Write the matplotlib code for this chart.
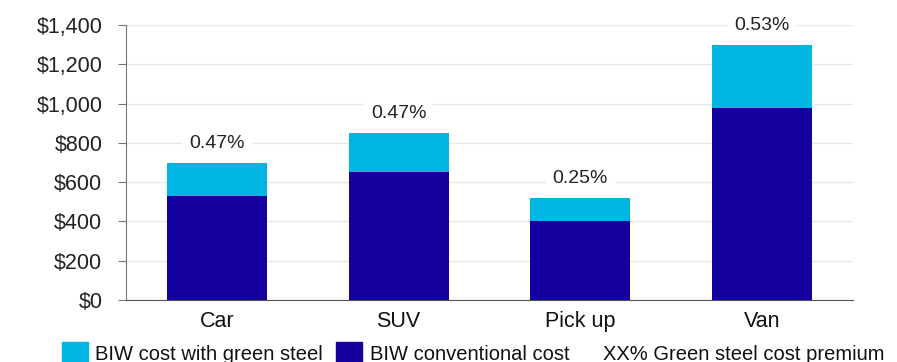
import matplotlib.pyplot as plt
from matplotlib.patches import Rectangle
from matplotlib.ticker import FuncFormatter

plt.rcParams['font.family'] = ['Liberation Sans', 'DejaVu Sans']

vehicles = ['Car', 'SUV', 'Pick up', 'Van']
conventional_cost = [530, 650, 400, 980]
green_steel_cost = [700, 850, 520, 1300]
premium_labels = ['0.47%', '0.47%', '0.25%', '0.53%']

LIGHT = '#00b5e2'
DARK = '#13009e'

fig = plt.figure(figsize=(8.97, 3.62), dpi=100)
ax = fig.add_axes([0.1405, 0.171, 0.8105, 0.76])

x = range(len(vehicles))
width = 0.55
# green steel total drawn behind, conventional cost on top of it
ax.bar(x, green_steel_cost, width, color=LIGHT, zorder=2)
ax.bar(x, conventional_cost, width, color=DARK, zorder=3)

for i, (total, lab) in enumerate(zip(green_steel_cost, premium_labels)):
    ax.annotate(lab, (i, total), xytext=(0, 14), textcoords='offset points',
                ha='center', va='center', fontsize=14, color='#222222',
                bbox=dict(facecolor='white', edgecolor='none', pad=5), zorder=4)

ax.set_xlim(-0.5, 3.5)
ax.set_ylim(0, 1400)
ax.set_yticks(range(0, 1401, 200))
ax.yaxis.set_major_formatter(FuncFormatter(lambda v, p: '${:,.0f}'.format(v)))
ax.set_xticks(list(x))
ax.set_xticklabels(vehicles)
ax.tick_params(axis='x', length=0, labelsize=15.5, pad=7.5, colors='#111111')
ax.tick_params(axis='y', length=6, labelsize=15.5, color='#777777', pad=11,
               labelcolor='#222222')
ax.grid(axis='y', color='#e8e8e8', linewidth=1, zorder=0)
ax.set_axisbelow(True)
for side in ['top', 'right']:
    ax.spines[side].set_visible(False)
ax.spines['left'].set_color('#777777')
ax.spines['bottom'].set_color('#555555')

# legend row along the bottom edge
fig.patches.append(Rectangle((62 / 897, 0), 26 / 897, 20 / 362, color=LIGHT,
                             transform=fig.transFigure, figure=fig))
fig.text(95 / 897, 8 / 362, 'BIW cost with green steel', fontsize=14.5,
         va='center', color='#111111')
fig.patches.append(Rectangle((336 / 897, 0), 26 / 897, 20 / 362, color=DARK,
                             transform=fig.transFigure, figure=fig))
fig.text(370 / 897, 8 / 362, 'BIW conventional cost', fontsize=14.5,
         va='center', color='#111111')
fig.text(603 / 897, 7 / 362, 'XX% Green steel cost premium', fontsize=14.5,
         va='center', color='#111111')

fig.savefig('out.png', dpi=100)
